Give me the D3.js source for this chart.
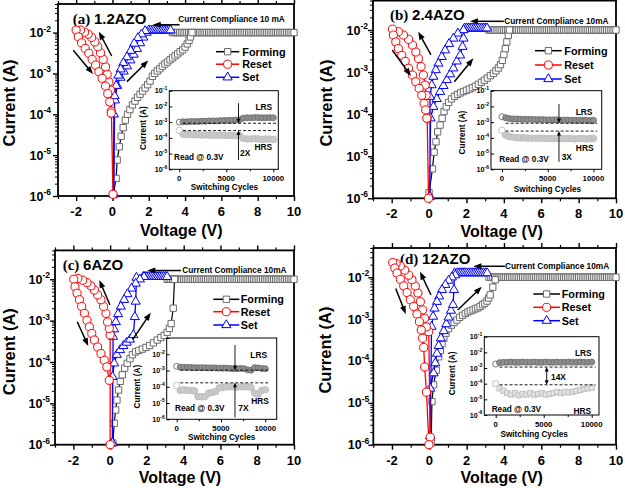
<!DOCTYPE html>
<html><head><meta charset="utf-8">
<script src="https://cdn.jsdelivr.net/npm/d3@7"></script>
<style>body{margin:0;background:#fff}svg{display:block}</style>
</head><body><svg id="chart" width="625" height="488"></svg>
<script>
// ---------------- DATA ----------------
const voltTicks=[-2,0,2,4,6,8,10];
const voltMinor=[-3,-1,1,3,5,7,9];
const currentTicks=[1e-6,1e-5,1e-4,1e-3,1e-2];
const cycleTicks=[0,5000,10000];
const cycleMinor=[2500,7500];
const insetTicks=[1e-6,1e-5,1e-4,1e-3,1e-2,1e-1];
const legendNames=["Forming","Reset","Set"];
const cycles=[0,400,800,1200,1600,2000,2400,2800,3200,3600,4000,4400,4800,5200,5600,6000,6400,6800,7200,7600,8000,8400,8800,9200,9600,10000];
const complianceV=[3.0,3.1,3.2,3.3,3.4,3.5,3.6,3.7,3.8,3.9,4.0,4.1,4.2,4.3,4.4,4.5,4.6,4.7,4.8,4.9,5.0,5.1,5.2,5.3,5.4,5.5,5.6,5.7,5.8,5.9,6.0,6.1,6.2,6.3,6.4,6.5,6.6,6.7,6.8,6.9,7.0,7.1,7.2,7.3,7.4,7.5,7.6,7.7,7.8,7.9,8.0,8.1,8.2,8.3,8.4,8.5,8.6,8.7,8.8,8.9,9.0,9.1,9.2,9.3,9.4,9.5,9.6,9.7,9.8,9.9,10.0];
const setFlatV=[1.4,1.5,1.6,1.7,1.8,1.9,2.0,2.1,2.2,2.3,2.4,2.5,2.6,2.7,2.8,2.9,3.0,3.1,3.2,3.3];
const formCompliance=[1e-2,1e-2,1e-2,1e-2];
const setCompliance=[1.14e-2,1.1e-2,1.15e-2,1.26e-2];

// (a) 1.2AZO
const aForming=[[0.05,1.1e-6],[0.2,2.7e-6],[0.26,7.6e-6],[0.38,1.6e-5],[0.48,2.9e-5],[0.59,4.7e-5],[0.71,7.2e-5],[0.83,1.0e-4],[0.96,1.3e-4],[1.1,1.7e-4],[1.24,2.1e-4],[1.38,2.6e-4],[1.52,3.1e-4],[1.66,3.7e-4],[1.8,4.4e-4],[1.94,5.3e-4],[2.07,6.5e-4],[2.2,8.5e-4],[2.33,1.0e-3],[2.47,1.15e-3],[2.61,1.3e-3],[2.75,1.5e-3],[2.89,1.7e-3],[3.03,1.9e-3],[3.17,2.15e-3],[3.31,2.4e-3],[3.45,2.7e-3],[3.59,3.0e-3],[3.73,3.4e-3],[3.87,3.8e-3],[4.0,4.4e-3],[4.12,5.3e-3],[4.22,6.4e-3],[4.3,7.8e-3],[4.38,1.0e-2]];
const aReset=[[0.03,1.1e-6],[-0.06,1.2e-4],[-0.11,3.9e-4],[-0.2,6.2e-4],[-0.29,9.5e-4],[-0.38,1.45e-3],[-0.51,2.2e-3],[-0.66,3.2e-3],[-0.81,4.5e-3],[-0.97,5.9e-3],[-1.15,7.6e-3],[-1.34,9.1e-3],[-1.54,1.02e-2],[-1.76,1.15e-2],[-2.0,1.15e-2],[-1.88,7.8e-3],[-1.7,5.6e-3],[-1.5,4.1e-3],[-1.3,3.1e-3],[-1.12,2.2e-3],[-0.93,1.6e-3],[-0.75,1.1e-3],[-0.57,7.6e-4],[-0.38,4.9e-4],[-0.26,3.2e-4],[-0.15,2.0e-4],[-0.07,1.07e-4]];
const aSetUp=[[0.05,1.1e-6],[0.08,1.0e-4],[0.14,2.2e-4],[0.26,5.0e-4],[0.44,7.9e-4],[0.62,1.12e-3],[0.8,1.5e-3],[0.99,2.1e-3],[1.17,2.9e-3],[1.35,4.0e-3],[1.53,5.5e-3],[1.7,7.6e-3],[1.88,1.0e-2]];
const aSetDown=[[1.8,1.1e-2],[1.6,9.1e-3],[1.4,7.4e-3],[1.2,5.4e-3],[1.0,3.6e-3],[0.8,2.5e-3],[0.6,1.8e-3],[0.45,1.26e-3],[0.32,8.9e-4],[0.2,5.0e-4],[0.12,2.8e-4],[0.08,1.1e-6]];
const aLRS=[1.0e-3,1.05e-3,1.05e-3,1.1e-3,1.1e-3,1.1e-3,1.15e-3,1.15e-3,1.2e-3,1.2e-3,1.2e-3,1.25e-3,1.25e-3,1.3e-3,1.3e-3,1.35e-3,1.4e-3,1.8e-3,1.9e-3,1.9e-3,1.95e-3,1.95e-3,1.9e-3,1.9e-3,1.95e-3,1.9e-3];
const aHRS=[3.0e-4,1.7e-4,1.6e-4,1.6e-4,1.55e-4,1.6e-4,1.5e-4,1.55e-4,1.5e-4,1.5e-4,1.45e-4,1.5e-4,1.45e-4,1.4e-4,1.45e-4,1.4e-4,1.4e-4,9e-5,8.5e-5,8.5e-5,9e-5,8.5e-5,8e-5,8.5e-5,8.5e-5,8e-5];

// (b) 2.4AZO
const bForming=[[0.0,1.35e-6],[0.18,5e-6],[0.27,1.25e-5],[0.37,2.2e-5],[0.46,3.8e-5],[0.59,5.5e-5],[0.7,8e-5],[0.8,1.15e-4],[0.92,1.5e-4],[1.05,1.9e-4],[1.2,2.3e-4],[1.36,2.65e-4],[1.52,2.95e-4],[1.68,3.2e-4],[1.84,3.45e-4],[2.0,3.7e-4],[2.16,3.95e-4],[2.32,4.25e-4],[2.48,4.6e-4],[2.64,5.1e-4],[2.8,5.7e-4],[2.96,6.4e-4],[3.12,7.2e-4],[3.28,8.2e-4],[3.44,9.3e-4],[3.58,1.07e-3],[3.71,1.25e-3],[3.82,1.5e-3],[3.92,1.9e-3],[4.0,2.6e-3],[4.08,3.6e-3],[4.16,5.2e-3],[4.24,7.5e-3],[4.3,1.0e-2]];
const bReset=[[-0.03,1.0e-6],[-0.1,8e-5],[-0.16,2.8e-4],[-0.21,4.9e-4],[-0.3,8.5e-4],[-0.43,1.35e-3],[-0.57,2.1e-3],[-0.71,3.0e-3],[-0.89,4.4e-3],[-1.1,6.0e-3],[-1.37,7.6e-3],[-1.64,9.1e-3],[-1.96,1.05e-2],[-1.91,7.6e-3],[-1.78,5.2e-3],[-1.64,3.6e-3],[-1.46,2.5e-3],[-1.28,1.8e-3],[-1.1,1.23e-3],[-0.89,8.5e-4],[-0.71,5.9e-4],[-0.53,4.1e-4],[-0.39,2.8e-4],[-0.27,1.8e-4],[-0.18,1.26e-4],[-0.12,8e-5]];
const bSetUp=[[0.03,1.1e-6],[0.08,8e-5],[0.23,1.5e-4],[0.41,2.3e-4],[0.59,3.4e-4],[0.77,4.7e-4],[0.95,6.5e-4],[1.13,8.9e-4],[1.3,1.23e-3],[1.48,1.8e-3],[1.66,2.5e-3],[1.79,4.0e-3],[1.84,6.3e-3]];
const bSetDown=[[1.84,1.0e-2],[1.54,8.3e-3],[1.3,6.3e-3],[1.07,4.7e-3],[0.86,3.3e-3],[0.68,2.3e-3],[0.5,1.6e-3],[0.36,1.12e-3],[0.23,7.8e-4],[0.14,4.9e-4],[0.05,2.6e-4],[0.05,1.1e-6]];
const bLRS=[2.2e-3,1.9e-3,1.7e-3,1.6e-3,1.6e-3,1.55e-3,1.5e-3,1.5e-3,1.5e-3,1.45e-3,1.45e-3,1.45e-3,1.4e-3,1.4e-3,1.4e-3,1.4e-3,1.35e-3,1.35e-3,1.35e-3,1.3e-3,1.3e-3,1.3e-3,1.3e-3,1.3e-3,1.25e-3,1.3e-3];
const bHRS=[3.0e-4,1.5e-4,1.2e-4,1.1e-4,1.0e-4,1.0e-4,1.0e-4,9.5e-5,9.5e-5,9.5e-5,9.5e-5,9.5e-5,9e-5,9e-5,9e-5,9e-5,9e-5,9e-5,9e-5,9e-5,8.5e-5,9e-5,9e-5,8.5e-5,9e-5,9e-5];

// (c) 6AZO
const cForming=[[0.15,1.1e-6],[0.22,3.3e-6],[0.3,6.9e-6],[0.37,1.2e-5],[0.46,2.1e-5],[0.55,3.4e-5],[0.66,4.9e-5],[0.79,7.1e-5],[0.93,9.3e-5],[1.08,1.2e-4],[1.21,1.5e-4],[1.38,1.75e-4],[1.56,1.9e-4],[1.75,2.05e-4],[1.95,2.25e-4],[2.15,2.5e-4],[2.35,2.9e-4],[2.56,3.4e-4],[2.76,3.9e-4],[2.94,4.4e-4],[3.1,5.2e-4],[3.22,6.5e-4],[3.32,8.5e-4],[3.43,2.0e-3],[3.5,1.0e-2]];
const cReset=[[0.0,1.0e-6],[0.0,4.5e-4],[-0.05,6.5e-4],[-0.14,9.3e-4],[-0.23,1.5e-3],[-0.36,2.2e-3],[-0.5,3.2e-3],[-0.68,4.2e-3],[-0.86,5.5e-3],[-1.04,6.9e-3],[-1.26,8.3e-3],[-1.49,9.5e-3],[-1.76,1.05e-2],[-1.98,1.0e-2],[-1.91,6.6e-3],[-1.8,4.6e-3],[-1.67,3.2e-3],[-1.55,2.2e-3],[-1.4,1.5e-3],[-1.26,1.02e-3],[-1.13,7.1e-4],[-1.0,4.9e-4],[-0.86,3.4e-4],[-0.68,2.3e-4],[-0.5,1.6e-4],[-0.32,1.1e-4],[-0.18,7.6e-5],[-0.05,3.6e-5]];
const cSetUp=[[0.12,1.1e-6],[0.13,4.4e-5],[0.22,9.3e-5],[0.36,1.5e-4],[0.54,1.95e-4],[0.72,2.45e-4],[0.9,2.95e-4],[1.08,3.5e-4],[1.26,4.5e-4],[1.34,1.23e-3],[1.39,2.9e-3],[1.43,1.1e-2]];
const cSetDown=[[1.84,1.15e-2],[1.62,1.0e-2],[1.39,7.9e-3],[1.16,6.0e-3],[0.94,4.4e-3],[0.76,3.2e-3],[0.58,2.2e-3],[0.43,1.45e-3],[0.31,9.3e-4],[0.22,6.2e-4],[0.16,4.1e-4],[0.12,1.1e-6]];
const cLRS=[1.8e-3,1.6e-3,1.6e-3,1.55e-3,1.55e-3,1.5e-3,1.5e-3,1.5e-3,1.5e-3,1.45e-3,1.45e-3,1.45e-3,1.4e-3,1.4e-3,1.4e-3,1.35e-3,1.3e-3,1.3e-3,1.35e-3,1.3e-3,1.1e-3,1.05e-3,1.5e-3,1.45e-3,1.35e-3,1.3e-3];
const cHRS=[1.2e-4,6e-5,6.5e-5,6e-5,6e-5,5.5e-5,2.5e-5,2.4e-5,2.5e-5,4e-5,4.5e-5,5e-5,8.5e-5,9e-5,1.0e-4,1.0e-4,1.0e-4,9.5e-5,1.0e-4,1.0e-4,1.0e-4,9e-5,4e-5,3.5e-5,6e-5,6.5e-5];

// (d) 12AZO
const dForming=[[0.1,1.1e-6],[0.14,1.07e-5],[0.23,2.7e-5],[0.37,6.0e-5],[0.5,1.26e-4],[0.59,1.8e-4],[0.68,2.6e-4],[0.78,3.5e-4],[0.89,4.6e-4],[1.03,5.9e-4],[1.18,7.2e-4],[1.33,8.4e-4],[1.48,9.5e-4],[1.63,1.1e-3],[1.78,1.23e-3],[1.93,1.36e-3],[2.07,1.48e-3],[2.2,1.57e-3],[2.34,1.66e-3],[2.47,1.76e-3],[2.6,1.86e-3],[2.72,2.0e-3],[2.85,2.2e-3],[2.97,2.4e-3],[3.09,2.7e-3],[3.18,3.2e-3],[3.26,3.8e-3],[3.4,5.8e-3],[3.53,8.7e-3]];
const dReset=[[0.05,1.5e-6],[-0.03,5e-4],[-0.16,6.5e-4],[-0.25,1.05e-3],[-0.36,1.66e-3],[-0.48,2.6e-3],[-0.61,4.2e-3],[-0.75,6.2e-3],[-0.93,8.7e-3],[-1.1,1.12e-2],[-1.32,1.48e-2],[-1.55,1.86e-2],[-1.78,2.14e-2],[-1.96,2.24e-2],[-1.85,1.66e-2],[-1.73,1.26e-2],[-1.55,8.9e-3],[-1.37,6.2e-3],[-1.19,4.3e-3],[-1.02,2.9e-3],[-0.84,2.0e-3],[-0.66,1.32e-3],[-0.53,8.7e-4],[-0.43,5.5e-4],[-0.36,3.5e-4],[-0.3,2.1e-4],[-0.25,7.2e-5],[-0.15,1.8e-5],[-0.02,1.0e-6]];
const dSetUp=[[0.05,1.6e-6],[0.05,2.2e-5],[0.23,5.1e-5],[0.32,8.9e-5],[0.41,1.5e-4],[0.5,2.3e-4],[0.62,3.5e-4],[0.77,5.2e-4],[0.91,7.6e-4],[1.03,1.1e-3],[1.16,1.6e-3],[1.27,2.2e-3],[1.32,5.0e-3],[1.35,1.26e-2]];
const dSetDown=[[1.39,1.12e-2],[1.21,1.0e-2],[1.03,8.3e-3],[0.86,6.6e-3],[0.68,5.0e-3],[0.53,3.5e-3],[0.41,2.6e-3],[0.28,1.8e-3],[0.2,1.15e-3],[0.12,6.6e-4],[0.05,1.6e-6]];
const dLRS=[1.8e-3,2.2e-3,2.3e-3,2.3e-3,2.4e-3,2.3e-3,2.3e-3,2.4e-3,2.3e-3,2.3e-3,2.4e-3,2.3e-3,2.3e-3,2.4e-3,2.3e-3,2.3e-3,2.4e-3,2.3e-3,2.3e-3,2.4e-3,2.3e-3,2.3e-3,2.4e-3,2.3e-3,2.3e-3,2.4e-3];
const dHRS=[1.0e-4,5e-5,3.5e-5,2.5e-5,2e-5,2.5e-5,1.8e-5,2.2e-5,2e-5,2.5e-5,2e-5,2.2e-5,2.5e-5,2e-5,2.2e-5,2.5e-5,3e-5,2.5e-5,3e-5,2.8e-5,3e-5,3.5e-5,4e-5,4.5e-5,5e-5,5.5e-5];

// ---------------- LAYOUT ----------------
const panels=[
 {lab:'(a)',name:'1.2AZO',x0:58,x1:294,y0:4,y1:196,ylabOff:7,tx:72.7,ty:18.3,
  forming:aForming,reset:aReset,setUp:aSetUp,setDown:aSetDown,formFlat:3.3,setFlat:[1.95,3.25],k:0,
  cc:{text:'Current Compliance 10 mA',tx:178.3,ty:19.3,v1:3.7,v2:2.22,i:1.55e-2},
  arrows:[[-2.16,3.7e-3,-1.07,9.7e-4],[-0.04,2.67e-3,-0.75,1.05e-2],[0.8,6.3e-4,1.97,2.07e-3]],
  leg:{x0:216,x1:239.3,tx:242.3,ys:[51.7,64.2,77.3]},
  yl:[9,103],xl:[181.3,230],
  inset:{x0:169.3,x1:278.3,y0:90.7,y1:169.3,xdom:[-1060,10530],lrs:aLRS,hrs:aHRS,lrsDash:8.5e-4,hrsDash:2.9e-4,
   arrowC:6300,arrowTop:1.6e-2,arrowBot:3.9e-6,dbl:false,ratio:'2X',rx:240,ry:153.3,
   lrsT:[263.8,106.7],hrsT:[263.3,146.7],read:[174,157],yl:[143.5,128],xl:[224.5,186.8],tickY:178,yLabels:insetTicks,sq:false}},
 {lab:'(b)',name:'2.4AZO',x0:373,x1:616,y0:0.6,y1:198.3,ylabOff:5,tx:390,ty:15,
  forming:bForming,reset:bReset,setUp:bSetUp,setDown:bSetDown,formFlat:3.2,setFlat:[1.9,3.1],k:1,
  cc:{text:'Current Compliance 10mA',tx:504.3,ty:20.7,v1:4.0,v2:2.19,i:1.61e-2},
  arrows:[[-1.97,3.35e-3,-0.97,8.1e-4],[0.1,2.55e-3,-0.58,9.1e-3],[1.35,5.9e-4,2.37,2.12e-3]],
  leg:{x0:535,x1:561.7,tx:564.3,ys:[50.7,65,79]},
  yl:[325.7,103],xl:[501.7,231],
  inset:{x0:491,x1:601.7,y0:90.7,y1:169.3,xdom:[-1200,10900],lrs:bLRS,hrs:bHRS,lrsDash:8.5e-4,hrsDash:2.7e-4,
   arrowC:6230,arrowTop:1.4e-2,arrowBot:3e-6,dbl:false,ratio:'3X',rx:561.7,ry:156.7,
   lrsT:[584,111.7],hrsT:[584.7,148.3],read:[499.3,159],yl:[461.7,132.5],xl:[547.5,188.6],tickY:178.5,yLabels:insetTicks,sq:false}},
 {lab:'(c)',name:'6AZO',x0:55,x1:294,y0:250.4,y1:444.7,ylabOff:5,tx:62.7,ty:265,
  forming:cForming,reset:cReset,setUp:cSetUp,setDown:cSetDown,formFlat:3.1,setFlat:[1.75,3.1],k:2,
  cc:{text:'Current Compliance 10mA',tx:182.3,ty:270,v1:3.85,v2:2.02,i:1.63e-2},
  arrows:[[-1.79,9.4e-4,-1.19,2.44e-4],[-0.01,2.39e-3,-0.59,9.6e-3],[1.23,3.54e-4,2.21,1.56e-3]],
  leg:{x0:213.3,x1:239.3,tx:240.7,ys:[299.3,311.7,325]},
  yl:[9.3,351.7],xl:[180,477.5],
  inset:{x0:166.7,x1:276.7,y0:338,y1:419.3,xdom:[-1130,11290],lrs:cLRS,hrs:cHRS,lrsDash:1.05e-3,hrsDash:1.75e-4,
   arrowC:6580,arrowTop:3.7e-2,arrowBot:1.3e-6,dbl:false,ratio:'7X',rx:238.3,ry:407.7,
   lrsT:[258.7,355],hrsT:[260,401],read:[175,407.7],yl:[136.7,386.7],xl:[221.7,437.2],tickY:427.8,yLabels:[1e-6,1e-5,1e-4,1e-3,1e-2],sq:false}},
 {lab:'(d)',name:'12AZO',x0:373.3,x1:616,y0:248,y1:444.7,ylabOff:4,tx:400,ty:258.3,
  forming:dForming,reset:dReset,setUp:dSetUp,setDown:dSetDown,formFlat:3.2,setFlat:[1.45,3.1],k:3,
  cc:{text:'Current Compliance 10mA',tx:505,ty:266,v1:4.05,v2:2.36,i:1.83e-2},
  arrows:[[-1.8,5.4e-3,-1.26,1.32e-3],[0.09,3.77e-3,-0.5,1.36e-2],[1.52,1.65e-3,2.81,5.9e-3]],
  leg:{x0:533.3,x1:560,tx:561.7,ys:[294,307.3,320.7]},
  yl:[325,350],xl:[501.7,477.5],
  inset:{x0:484.3,x1:599,y0:336.7,y1:415,xdom:[-1190,10760],lrs:dLRS,hrs:dHRS,lrsDash:1.15e-3,hrsDash:8.5e-5,
   arrowC:5310,dbl:true,ratio:'14X',rx:551,ry:376.7,
   lrsT:[583.3,353.3],hrsT:[582.3,410.7],read:[491.7,409.5],yl:[451.7,373.3],xl:[534.2,434],tickY:424,yLabels:insetTicks,sq:true}}
];

// ---------------- DRAW ----------------
const svg=d3.select('#chart');
const SANS="'Liberation Sans',Arial,Helvetica,sans-serif";
const SERIF="'Liberation Serif','Times New Roman',serif";
const RED='#ff0000',BLUE='#0000ff';

function head(g,x1,y1,x2,y2,len,wid){
  const a=Math.atan2(y2-y1,x2-x1);
  const bx=x2-len*Math.cos(a),by=y2-len*Math.sin(a);
  const px=-Math.sin(a)*wid/2,py=Math.cos(a)*wid/2;
  g.append('path').attr('d',`M${x2},${y2}L${bx+px},${by+py}L${bx-px},${by-py}Z`).attr('fill','#000');
}
function arrow(g,x1,y1,x2,y2,len,wid,sw){
  const a=Math.atan2(y2-y1,x2-x1);
  g.append('line').attr('x1',x1).attr('y1',y1).attr('x2',x2-len*0.7*Math.cos(a)).attr('y2',y2-len*0.7*Math.sin(a))
   .attr('stroke','#000').attr('stroke-width',sw);
  head(g,x1,y1,x2,y2,len,wid);
}
function txt(g,x,y,s,size,anchor){
  return g.append('text').attr('x',x).attr('y',y).attr('dy','0.36em').attr('text-anchor',anchor||'start')
   .attr('font-family',SANS).attr('font-weight','bold').attr('font-size',size).attr('fill','#000').text(s);
}
const sq=d3.symbol().type(d3.symbolSquare).size(40)();
const tri=d3.symbol().type(d3.symbolTriangle).size(36)();

function marks(g,pts,x,y,kind){
  const sel=g.append('g').selectAll('path').data(pts).join('path')
   .attr('transform',d=>`translate(${x(d[0])},${y(d[1])})`);
  if(kind==='sq') sel.attr('d',sq).attr('fill','#fff').attr('stroke','#6a6a6a').attr('stroke-width',1);
  if(kind==='tri') sel.attr('d',tri).attr('fill','#fff').attr('stroke',BLUE).attr('stroke-width',1);
  if(kind==='ci') sel.attr('d',d3.symbol().type(d3.symbolCircle).size(52)()).attr('fill','#fff').attr('stroke',RED).attr('stroke-width',1);
}

function drawInset(g,I){
  const ix=d3.scaleLinear().domain(I.xdom).range([I.x0,I.x1]);
  const iy=d3.scaleLog().domain([1e-6,1e-1]).range([I.y1,I.y0]);
  g.append('rect').attr('x',I.x0).attr('y',I.y0).attr('width',I.x1-I.x0).attr('height',I.y1-I.y0)
   .attr('fill','#fff').attr('stroke','#000').attr('stroke-width',1);
  const ax=(gen,tr,size)=>{const a=g.append('g').attr('transform',tr).call(gen.tickSize(size).tickFormat(''));
    a.select('.domain').remove();a.selectAll('line').attr('stroke','#000').attr('stroke-width',1);};
  ax(d3.axisBottom(ix).tickValues(cycleTicks),`translate(0,${I.y1})`,3);
  ax(d3.axisBottom(ix).tickValues(cycleMinor),`translate(0,${I.y1})`,2);
  ax(d3.axisLeft(iy).tickValues(insetTicks),`translate(${I.x0},0)`,-3);
  cycleTicks.forEach(c=>txt(g,ix(c),I.tickY,String(c),7.8,'middle'));
  I.yLabels.forEach(v=>{
    const t=g.append('text').attr('x',I.x0-2).attr('y',iy(v)).attr('dy','0.36em').attr('text-anchor','end')
      .attr('font-family',SANS).attr('font-weight','bold').attr('font-size',7.2);
    t.append('tspan').text('10');
    t.append('tspan').attr('font-size',5).attr('dy',-3.2).text(String(Math.round(Math.log10(v))));
  });
  txt(g,I.yl[0],I.yl[1],'Current (A)',8.3,'middle').attr('transform',`rotate(-90,${I.yl[0]},${I.yl[1]})`);
  txt(g,I.xl[0],I.xl[1],'Switching Cycles',8.2,'middle');
  const clip='clip'+Math.round(I.x0);
  g.append('clipPath').attr('id',clip).append('rect').attr('x',I.x0).attr('y',I.y0).attr('width',I.x1-I.x0).attr('height',I.y1-I.y0);
  const dg=g.append('g').attr('clip-path',`url(#${clip})`);
  const line=d3.line().x(d=>ix(d[0])).y(d=>iy(d[1]));
  const hr=cycles.map((c,i)=>[c,I.hrs[i]]), lr=cycles.map((c,i)=>[c,I.lrs[i]]);
  dg.append('path').attr('d',line(hr)).attr('fill','none').attr('stroke','#c8c8c8').attr('stroke-width',1.5);
  if(I.sq){
    dg.append('g').selectAll('rect').data(hr).join('rect').attr('x',d=>ix(d[0])-2.6).attr('y',d=>iy(d[1])-2.6)
      .attr('width',5.2).attr('height',5.2).attr('fill',(d,i)=>i===0?'#fff':'#e2e2e2').attr('stroke','#bdbdbd').attr('stroke-width',0.9);
  } else {
    dg.append('g').selectAll('circle').data(hr).join('circle').attr('cx',d=>ix(d[0])).attr('cy',d=>iy(d[1])).attr('r',3.3)
      .attr('fill',(d,i)=>i===0?'#fff':'#c9c9c9').attr('stroke','#bcbcbc').attr('stroke-width',0.9);
  }
  dg.append('path').attr('d',line(lr)).attr('fill','none').attr('stroke','#555').attr('stroke-width',1.5);
  dg.append('g').selectAll('circle').data(lr).join('circle').attr('cx',d=>ix(d[0])).attr('cy',d=>iy(d[1])).attr('r',3)
    .attr('fill',(d,i)=>i===0?'#fff':'#8e8e8e').attr('stroke','#6c6c6c').attr('stroke-width',0.9);
  [I.lrsDash,I.hrsDash].forEach(v=>dg.append('line').attr('x1',ix(400)).attr('x2',ix(10400)).attr('y1',iy(v)).attr('y2',iy(v))
    .attr('stroke','#000').attr('stroke-width',0.9).attr('stroke-dasharray','3,2'));
  const axx=ix(I.arrowC);
  if(I.dbl){
    g.append('line').attr('x1',axx).attr('x2',axx).attr('y1',iy(I.lrsDash)+3).attr('y2',iy(I.hrsDash)-3).attr('stroke','#000').attr('stroke-width',0.9);
    head(g,axx,iy(I.hrsDash)-3,axx,iy(I.lrsDash),4.5,4);
    head(g,axx,iy(I.lrsDash)+3,axx,iy(I.hrsDash),4.5,4);
  } else {
    arrow(g,axx,iy(I.arrowTop),axx,iy(I.lrsDash),4.5,4,0.9);
    arrow(g,axx,iy(I.arrowBot),axx,iy(I.hrsDash),4.5,4,0.9);
  }
  txt(g,I.lrsT[0],I.lrsT[1],'LRS',8.4,'middle');
  txt(g,I.hrsT[0],I.hrsT[1],'HRS',8.4,'middle');
  txt(g,I.rx,I.ry,I.ratio,8.4,'start');
  txt(g,I.read[0],I.read[1],'Read @ 0.3V',8.2,'start');
}

function drawPanel(p){
  const g=svg.append('g');
  const x=d3.scaleLinear().domain([-3,10]).range([p.x0,p.x1]);
  const y=d3.scaleLog().domain([1e-6,0.05]).range([p.y1,p.y0]);
  const minY=y.ticks().filter(v=>!currentTicks.some(m=>Math.abs(m-v)/m<1e-6));
  const ax=(gen,tr,size,w)=>{const a=g.append('g').attr('transform',tr).call(gen.tickSize(size).tickFormat(''));
    a.select('.domain').remove();a.selectAll('line').attr('stroke','#000').attr('stroke-width',w);};
  ax(d3.axisBottom(x).tickValues(voltTicks),`translate(0,${p.y1})`,5,1.4);
  ax(d3.axisBottom(x).tickValues(voltMinor),`translate(0,${p.y1})`,3,1.2);
  ax(d3.axisTop(x).tickValues(voltTicks),`translate(0,${p.y0})`,5,1.4);
  ax(d3.axisTop(x).tickValues(voltMinor),`translate(0,${p.y0})`,3,1.2);
  ax(d3.axisLeft(y).tickValues(currentTicks),`translate(${p.x0},0)`,5,1.4);
  ax(d3.axisLeft(y).tickValues(minY),`translate(${p.x0},0)`,3,1);
  g.append('rect').attr('x',p.x0).attr('y',p.y0).attr('width',p.x1-p.x0).attr('height',p.y1-p.y0)
   .attr('fill','none').attr('stroke','#000').attr('stroke-width',1.8);
  voltTicks.forEach(v=>txt(g,x(v),p.y1+15.3,String(v),13,'middle'));
  currentTicks.forEach(v=>{
    const t=g.append('text').attr('x',p.x0-p.ylabOff).attr('y',y(v)).attr('dy','0.36em').attr('text-anchor','end')
      .attr('font-family',SANS).attr('font-weight','bold').attr('font-size',12.5);
    t.append('tspan').text('10');
    t.append('tspan').attr('font-size',8.5).attr('dy',-5.5).text(String(Math.round(Math.log10(v))));
  });
  txt(g,p.yl[0],p.yl[1],'Current (A)',16.5,'middle').attr('transform',`rotate(-90,${p.yl[0]},${p.yl[1]})`);
  txt(g,p.xl[0],p.xl[1],'Voltage (V)',16,'middle');
  const t=g.append('text').attr('x',p.tx).attr('y',p.ty).attr('dy','0.36em').attr('font-weight','bold').attr('font-size',15);
  t.append('tspan').attr('font-family',SERIF).text(p.lab+' ');
  t.append('tspan').attr('font-family',SANS).text(p.name);

  const line=d3.line().x(d=>x(d[0])).y(d=>y(d[1]));
  const path=(pts,c,w)=>g.append('path').attr('d',line(pts)).attr('fill','none').attr('stroke',c).attr('stroke-width',w).attr('stroke-linejoin','round');
  const flat=complianceV.filter(v=>v>=p.formFlat-1e-9).map(v=>[v,formCompliance[p.k]]);
  path(p.forming,'#000',1.2); path(flat,'#000',1.2);
  marks(g,flat,x,y,'sq'); marks(g,p.forming,x,y,'sq');
  const sflat=setFlatV.filter(v=>v>=p.setFlat[0]-1e-9&&v<=p.setFlat[1]+1e-9).map(v=>[v,setCompliance[p.k]]);
  const setPts=p.setUp.concat(sflat,p.setDown);
  path(setPts,BLUE,1.3);
  marks(g,setPts,x,y,'tri');
  path(p.reset,RED,1.3);
  marks(g,p.reset,x,y,'ci');
  p.arrows.forEach(a=>arrow(g,x(a[0]),y(a[1]),x(a[2]),y(a[3]),8,6,1.5));
  arrow(g,x(p.cc.v1),y(p.cc.i),x(p.cc.v2),y(p.cc.i),8,6,1.5);
  txt(g,p.cc.tx,p.cc.ty,p.cc.text,8.3,'start');
  const L=p.leg, cols=['#000',RED,BLUE], kinds=['sq','ci','tri'];
  legendNames.forEach((n,i)=>{
    g.append('line').attr('x1',L.x0).attr('x2',L.x1).attr('y1',L.ys[i]).attr('y2',L.ys[i]).attr('stroke',cols[i]).attr('stroke-width',1.5);
    const mx=(L.x0+L.x1)/2;
    const lx=d3.scaleLinear().domain([0,1]).range([mx,mx+1]);
    const ly=d3.scaleLinear().domain([0,1]).range([L.ys[i],L.ys[i]+1]);
    marks(g,[[0,0]],lx,ly,kinds[i]);
    txt(g,L.tx,L.ys[i],n,10.8,'start');
  });
  drawInset(g.append('g'),p.inset);
}
panels.forEach(drawPanel);
</script></body></html>
